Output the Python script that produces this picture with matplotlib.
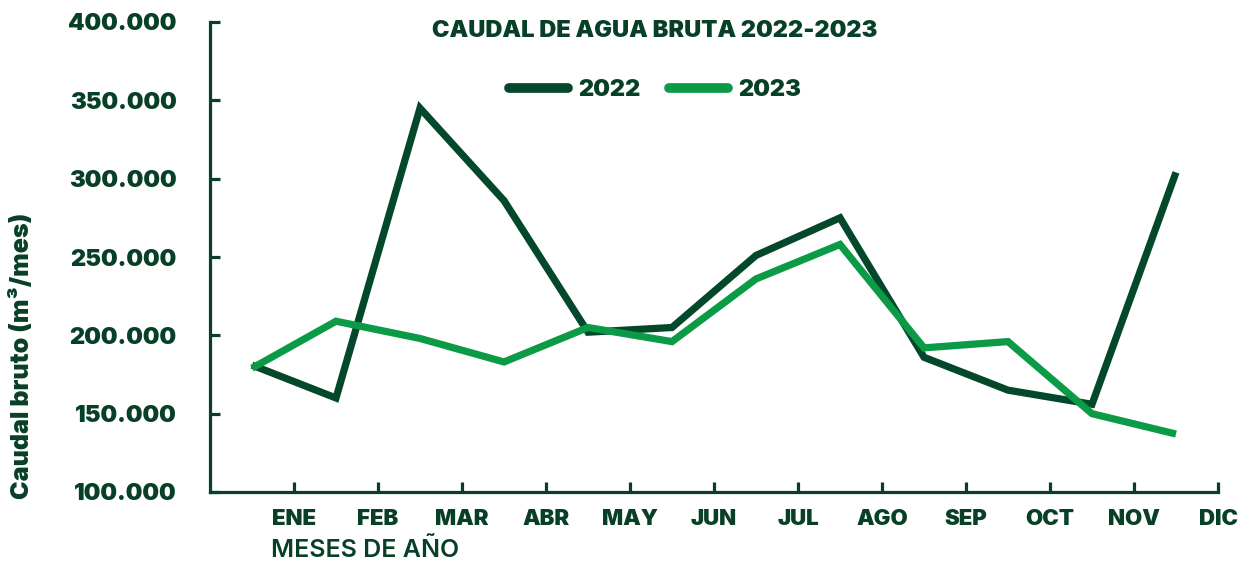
import matplotlib
matplotlib.use("Agg")
import matplotlib.pyplot as plt
from matplotlib.lines import Line2D

months = ["ENE", "FEB", "MAR", "ABR", "MAY", "JUN", "JUL", "AGO", "SEP", "OCT", "NOV", "DIC"]
caudal_2022 = [181000, 160000, 345000, 286000, 202000, 205000, 251000, 275000, 186000, 165000, 156000, 304000]
caudal_2023 = [179000, 209000, 198000, 183000, 205000, 196000, 236000, 258000, 192000, 196000, 150000, 137000]
yticks = [100000, 150000, 200000, 250000, 300000, 350000, 400000]
ytick_labels = ["100.000", "150.000", "200.000", "250.000", "300.000", "350.000", "400.000"]

TXT = "#073f27"
C22 = "#03482b"
C23 = "#0b9a45"
FONT = "Inter"

plt.rcParams['font.family'] = [FONT, 'DejaVu Sans']

W, H = 1246, 562
fig = plt.figure(figsize=(W / 100, H / 100), dpi=100)
ax = fig.add_axes([210 / W, (H - 492) / H, (1218 - 210) / W, (492 - 22) / H])

xpos = [i + 0.5 for i in range(len(months))]
ax.plot(xpos, caudal_2022, color=C22, lw=5.2, solid_joinstyle='miter', solid_capstyle='butt', zorder=3)
ax.plot(xpos, caudal_2023, color=C23, lw=5.2, solid_joinstyle='miter', solid_capstyle='butt', zorder=3)

ax.set_xlim(0, 12)
ax.set_ylim(100000, 400000)
ax.set_xticks(range(1, 13))
ax.set_xticklabels(months)
ax.set_yticks(yticks)
ax.set_yticklabels(ytick_labels)

for s in ["top", "right"]:
    ax.spines[s].set_visible(False)
for s in ["left", "bottom"]:
    ax.spines[s].set_color(TXT)
    ax.spines[s].set_linewidth(2.3)

ax.tick_params(axis='x', direction='in', length=7, width=2.3, color=TXT, pad=12,
               labelsize=16, labelcolor=TXT)
ax.tick_params(axis='y', direction='in', length=7, width=2.3, color=TXT, pad=24,
               labelsize=17, labelcolor=TXT)
for lab in ax.get_xticklabels() + ax.get_yticklabels():
    lab.set_fontweight('black')

fig.text(655 / W, 1 - 31 / H, "CAUDAL DE AGUA BRUTA 2022-2023", ha='center', va='center',
         fontsize=17, fontweight='black', color=TXT)

# legend
handles = [Line2D([0], [0], color=C22, lw=7, solid_capstyle='round'),
           Line2D([0], [0], color=C23, lw=7, solid_capstyle='round')]
leg = fig.legend(handles, ["2022", "2023"], loc='center', bbox_to_anchor=(655 / W, 1 - 90 / H),
                 ncol=2, frameon=False, handlelength=2.5, handletextpad=0.45, columnspacing=1.2,
                 prop={'family': FONT, 'weight': 'black', 'size': 17})
for t in leg.get_texts():
    t.set_color(TXT)

fig.text(271 / W, 1 - 550 / H, "MESES DE AÑO", ha='left', va='center',
         fontsize=18, fontweight='semibold', color=TXT)
fig.text(22 / W, 1 - 356 / H, "Caudal bruto (m³/mes)", ha='center', va='center', rotation=90,
         fontsize=18, fontweight='black', color=TXT)

fig.savefig("out.png", dpi=100, facecolor='white')
